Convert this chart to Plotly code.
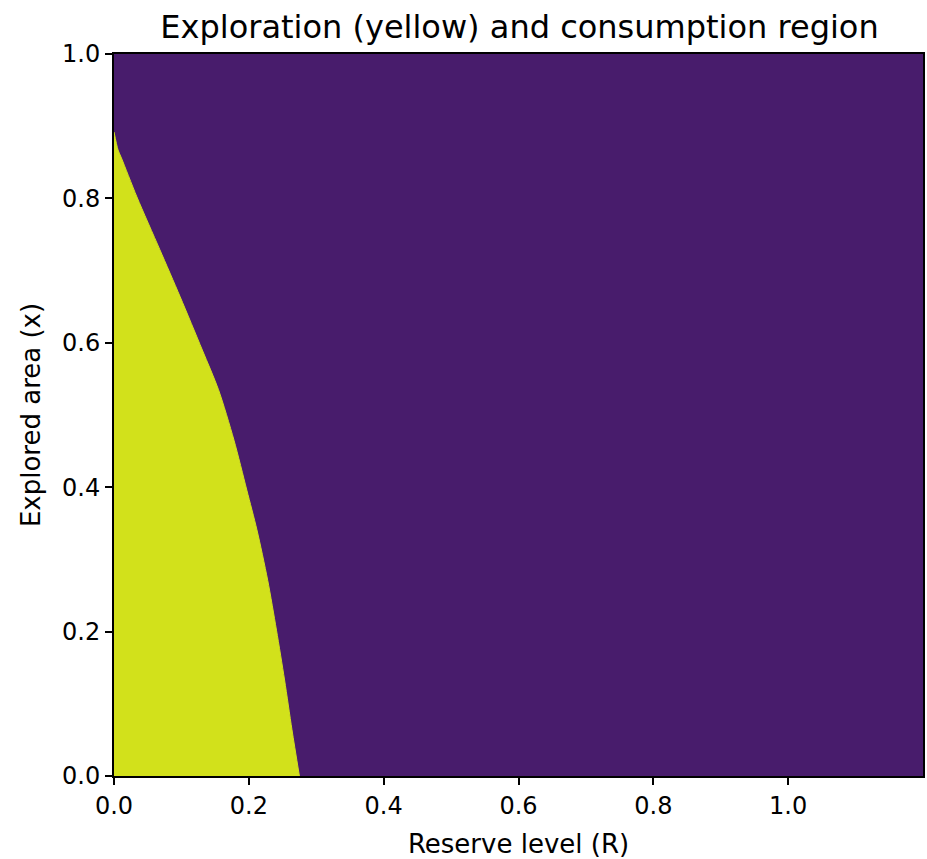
import plotly.graph_objects as go

# Boundary of exploration region: explored area (x) vs reserve level (R)
boundary_x = [0.000, 0.064, 0.133, 0.202, 0.271, 0.341, 0.396, 0.465, 0.535,
              0.590, 0.664, 0.729, 0.802, 0.856, 0.867, 0.892]
boundary_R = [0.275, 0.264, 0.253, 0.241, 0.228, 0.212, 0.197, 0.178, 0.155,
              0.131, 0.098, 0.068, 0.034, 0.011, 0.006, 0.000]

x_ticks = [0.0, 0.2, 0.4, 0.6, 0.8, 1.0]
y_ticks = [0.0, 0.2, 0.4, 0.6, 0.8, 1.0]
R_max = 1.2

PURPLE = "#481c6c"
YELLOW = "#d2e11b"

fig = go.Figure()
fig.add_trace(go.Scatter(x=boundary_R, y=boundary_x, fill="tozerox", fillcolor=YELLOW,
                         mode="lines", line=dict(color=YELLOW, width=1, shape="spline", smoothing=0.8),
                         hoverinfo="skip", showlegend=False))

font = "DejaVu Sans, sans-serif"
axis_common = dict(showgrid=False, zeroline=False, showline=True, linecolor="black",
                   linewidth=2, mirror=True, ticks="outside", ticklen=7, tickwidth=1.5,
                   tickcolor="black", tickfont=dict(family=font, size=24, color="black"),
                   tickformat=".1f")
fig.update_xaxes(range=[0, R_max], tickvals=x_ticks,
                 title=dict(text="Reserve level (R)", font=dict(family=font, size=26, color="black"), standoff=16),
                 **axis_common)
fig.update_yaxes(range=[0, 1], tickvals=y_ticks,
                 title=dict(text="Explored area (x)", font=dict(family=font, size=26, color="black"), standoff=14),
                 **axis_common)

fig.update_layout(
    width=927, height=859,
    margin=dict(l=114, r=2, t=54, b=83),
    paper_bgcolor="white", plot_bgcolor=PURPLE,
    title=dict(text="Exploration (yellow) and consumption region", x=(114 + 925) / 2 / 927,
               xanchor="center", y=1 - 27 / 859, yanchor="middle",
               font=dict(family=font, size=32, color="black")),
)

fig.write_html("out.html", config={"displayModeBar": False},
               post_script="document.body.style.margin='0';document.body.style.padding='0';document.body.style.overflow='hidden';")
